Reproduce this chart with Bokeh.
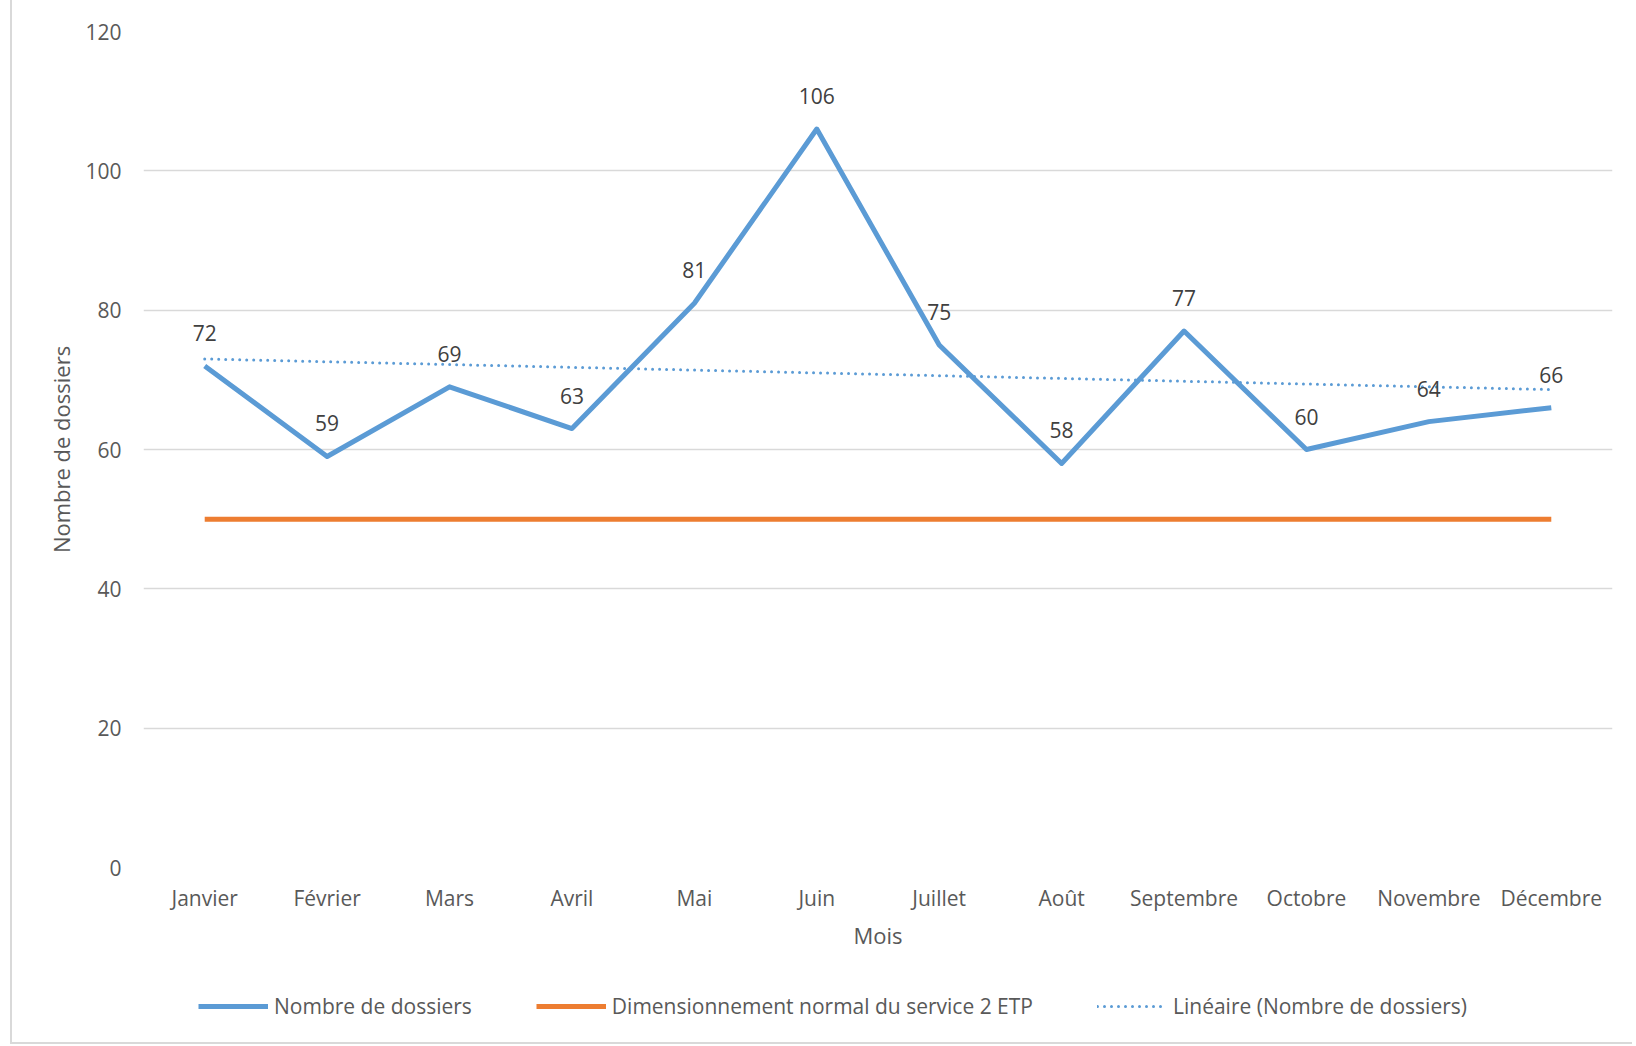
from bokeh.plotting import figure
from bokeh.models import Legend, LegendItem, ColumnDataSource, LabelSet, Range1d
from bokeh.layouts import column
from bokeh.core.properties import value
from bokeh.embed import file_html
from bokeh.resources import INLINE

months = ["Janvier", "Février", "Mars", "Avril", "Mai", "Juin", "Juillet",
          "Août", "Septembre", "Octobre", "Novembre", "Décembre"]
dossiers = [72, 59, 69, 63, 81, 106, 75, 58, 77, 60, 64, 66]
dimensionnement = [50] * 12
trend_months = ["Janvier", "Décembre"]
trend_values = [73.0, 68.6]
y_ticks = [0, 20, 40, 60, 80, 100, 120]

FONT = "Open Sans"
TXT = "#595959"
BLUE = "#5B9BD5"
ORANGE = "#ED7D31"

p = figure(x_range=months, y_range=(0, 120), width=1620, height=960,
           output_backend="svg", toolbar_location=None,
           min_border_left=131, min_border_right=20, min_border_top=31,
           min_border_bottom=93)
p.outline_line_color = None
p.background_fill_color = "white"
p.xgrid.grid_line_color = None
p.ygrid.grid_line_color = "#d9d9d9"
p.ygrid.grid_line_width = 1.5
p.yaxis.ticker = y_ticks

for ax in (p.xaxis[0], p.yaxis[0]):
    ax.axis_line_color = None
    ax.major_tick_line_color = None
    ax.minor_tick_line_color = None
    ax.major_tick_out = 0
    ax.major_tick_in = 0
    ax.minor_tick_out = 0
    ax.major_label_text_font = FONT
    ax.major_label_text_font_size = "21px"
    ax.major_label_text_color = TXT
    ax.axis_label_text_font = FONT
    ax.axis_label_text_font_size = "22px"
    ax.axis_label_text_color = TXT
    ax.axis_label_text_font_style = "normal"

p.xaxis.axis_label = "Mois"
p.yaxis.axis_label = "Nombre de dossiers"
p.xaxis.major_label_standoff = 16
p.yaxis.major_label_standoff = 22
p.xaxis.axis_label_standoff = 5
p.yaxis.axis_label_standoff = 6

src = ColumnDataSource(dict(m=months, v=dossiers, d=dimensionnement,
                            lbl=[str(v) for v in dossiers]))
tsrc = ColumnDataSource(dict(m=trend_months, t=trend_values))

p.line("m", "d", source=src, line_color=ORANGE, line_width=5)
p.line("m", "v", source=src, line_color=BLUE, line_width=5, line_join="round")
p.line("m", "t", source=tsrc, line_color=BLUE, line_width=3,
       line_dash="0 7", line_cap="round")

labels = LabelSet(x="m", y="v", text="lbl", source=src, y_offset=33,
                  text_align="center", text_baseline="middle",
                  text_font=value(FONT), text_font_size="21px", text_color="#404040")
p.add_layout(labels)

# Legend strip: same series, kept outside its (empty) view so only the legend shows
lg = figure(x_range=months, y_range=Range1d(-20, -10), width=1620, height=82,
            output_backend="svg", toolbar_location=None,
            x_axis_type=None, y_axis_type=None,
            min_border_left=0, min_border_right=0, min_border_top=0,
            min_border_bottom=0)
lg.outline_line_color = None
lg.xgrid.grid_line_color = None
lg.ygrid.grid_line_color = None
l_blue = lg.line("m", "v", source=src, line_color=BLUE, line_width=5)
l_orange = lg.line("m", "d", source=src, line_color=ORANGE, line_width=5)
l_trend = lg.line("m", "t", source=tsrc, line_color=BLUE, line_width=3,
                  line_dash="0 7", line_cap="round")

legend = Legend(items=[
    LegendItem(label="Nombre de dossiers", renderers=[l_blue]),
    LegendItem(label="Dimensionnement normal du service 2 ETP", renderers=[l_orange]),
    LegendItem(label="Linéaire (Nombre de dossiers)", renderers=[l_trend]),
], orientation="horizontal", location=(55, 22))
legend.label_text_font = FONT
legend.label_text_font_size = "21px"
legend.label_text_color = TXT
legend.glyph_width = 70
legend.glyph_height = 24
legend.label_height = 24
legend.label_standoff = 6
legend.spacing = 64
legend.padding = 0
legend.margin = 0
legend.border_line_color = None
legend.background_fill_alpha = 0
lg.add_layout(legend, "center")

layout = column(p, lg, spacing=0)
layout.styles = {"margin-left": "10px", "border-left": "2px solid #d9d9d9",
                 "border-bottom": "2px solid #d9d9d9"}

open("out.html", "w").write(file_html(layout, INLINE))
